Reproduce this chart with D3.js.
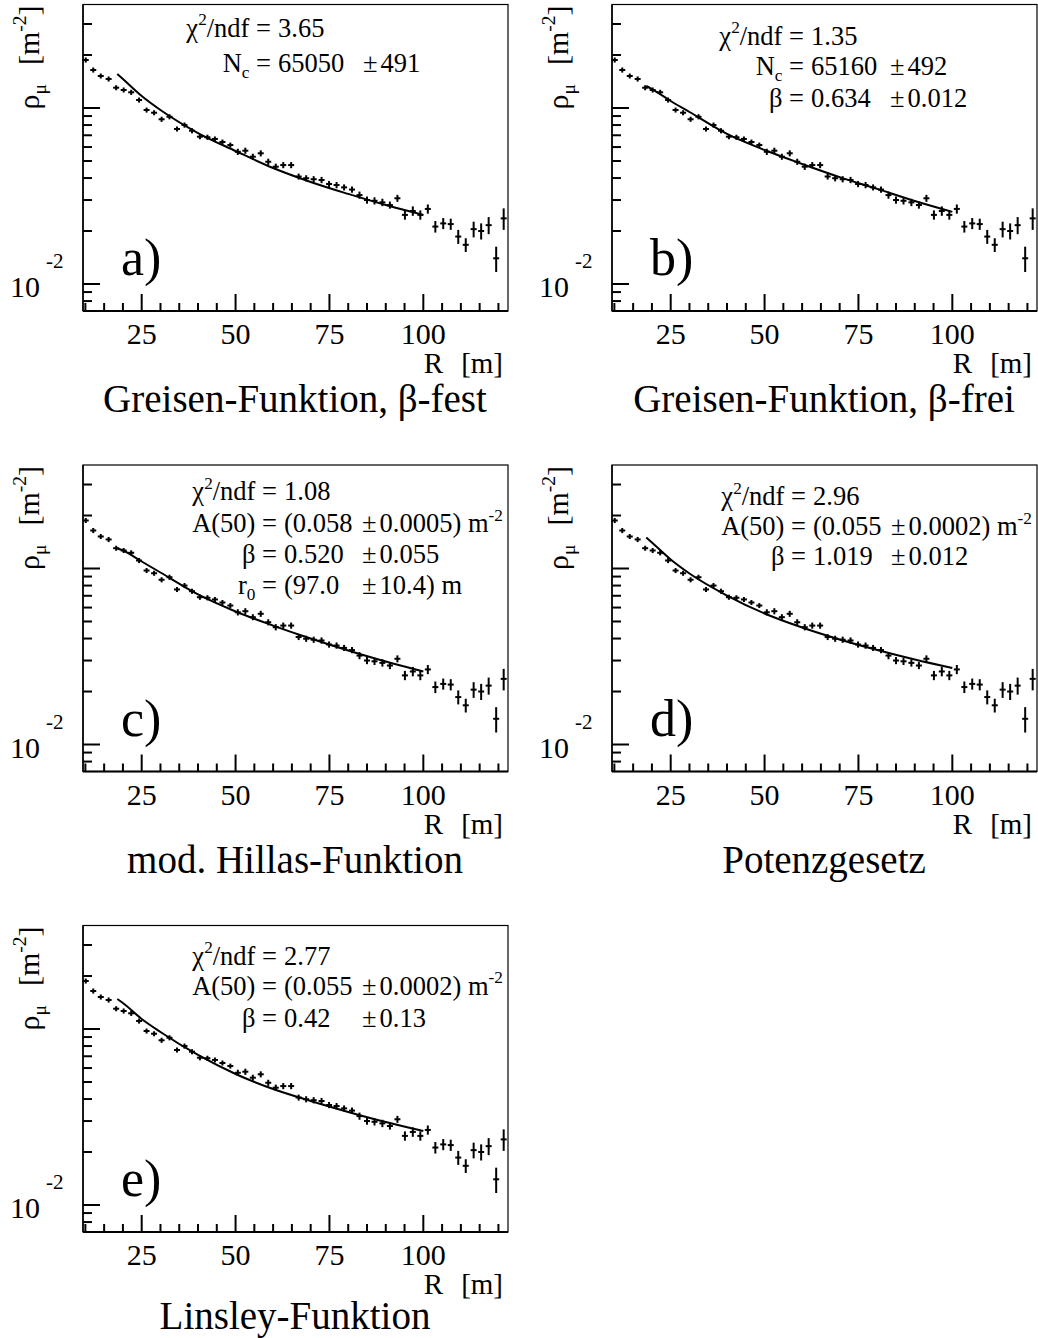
<!DOCTYPE html>
<html><head><meta charset="utf-8">
<script src="https://cdn.jsdelivr.net/npm/d3@7"></script>
<style>
body{margin:0;background:#fff}
svg{display:block}
text{font-family:"Liberation Serif","Times New Roman",serif;fill:#000}
</style>
</head><body>
<svg id="chart" width="1038" height="1338"></svg>
<script>
// ---------------- data ----------------
const R = [10.1,12.1,14.1,16.2,18.2,20.2,22.2,24.3,26.3,28.3,30.3,32.4,34.4,36.4,38.4,40.5,42.5,44.5,46.5,48.6,
  50.6,52.6,54.6,56.7,58.7,60.7,62.7,64.8,66.8,68.8,70.8,72.9,74.9,76.9,78.9,81.0,83.0,85.0,87.0,89.1,
  91.1,93.1,95.1,97.2,99.2,101.2,103.2,105.3,107.3,109.3,111.3,113.4,115.4,117.4,119.4,121.4];
const rho = [0.1874,0.1644,0.1520,0.1462,0.1304,0.1266,0.1228,0.1110,0.0974,0.0940,0.0863,0.0892,0.0760,0.0800,0.0743,0.0687,0.0682,0.0667,0.0641,0.0616,
  0.0564,0.0572,0.0529,0.0553,0.0495,0.0464,0.0474,0.0474,0.0408,0.0399,0.0394,0.0390,0.0370,0.0365,0.0354,0.0344,0.0320,0.0300,0.0297,0.0291,
  0.0281,0.0307,0.0247,0.0260,0.0247,0.0267,0.0212,0.0221,0.0219,0.0186,0.0167,0.0205,0.0200,0.0216,0.0140,0.0236];
const rhoErr = [0.0062,0.0055,0.0050,0.0049,0.0043,0.0042,0.0041,0.0037,0.0032,0.0031,0.0029,0.0030,0.0025,0.0027,0.0025,0.0023,0.0023,0.0022,0.0021,0.0020,
  0.0023,0.0023,0.0021,0.0022,0.0020,0.0019,0.0019,0.0019,0.0016,0.0016,0.0016,0.0016,0.0015,0.0015,0.0014,0.0014,0.0015,0.0014,0.0014,0.0014,
  0.0013,0.0014,0.0015,0.0016,0.0015,0.0016,0.0016,0.0016,0.0016,0.0017,0.0015,0.0021,0.0021,0.0024,0.0023,0.0033];

// fit curves
const fitR = [18.5,20,25,30,40,50,60,70,80,90,100];
const fitA = [0.1560,0.1461,0.1170,0.0974,0.0721,0.0570,0.0456,0.0380,0.0325,0.0281,0.0247];
const fitB = [0.1334,0.1282,0.1096,0.0949,0.0712,0.0577,0.0481,0.0405,0.0347,0.0296,0.0257];
const fitC = [0.1299,0.1266,0.1096,0.0949,0.0712,0.0570,0.0474,0.0400,0.0342,0.0296,0.0260];
const fitD = [0.1500,0.1405,0.1125,0.0937,0.0702,0.0555,0.0462,0.0395,0.0344,0.0304,0.0272];
const fitE = [0.1481,0.1405,0.1140,0.0962,0.0712,0.0555,0.0456,0.0390,0.0338,0.0296,0.0263];

const xMajorTicks = [25,50,75,100];
const xMinorTicks = [10,15,20,30,35,40,45,55,60,65,70,80,85,90,95,105,110,115,120];
const yMajorTicks = [0.01,0.1];
const yMinorTicks = [0.008,0.009,0.02,0.03,0.04,0.05,0.06,0.07,0.08,0.09,0.2,0.3];
const yLabelTicks = [0.01];

const panelTitles = ["Greisen-Funktion, \u03b2-fest","Greisen-Funktion, \u03b2-frei","mod. Hillas-Funktion","Potenzgesetz","Linsley-Funktion"];
const panelLetters = ["a)","b)","c)","d)","e)"];

const statsA = [["\u03c7^{2}/ndf =","3.65","",""],["N_{c} =","65050","491",""]];
const statsB = [["\u03c7^{2}/ndf =","1.35","",""],["N_{c} =","65160","492",""],["\u03b2 =","0.634","0.012",""]];
const statsC = [["\u03c7^{2}/ndf =","1.08","",""],["A(50) =","(0.058","0.0005)"," m^{-2}"],["\u03b2 =","0.520","0.055",""],["r_{0} =","(97.0","10.4)"," m"]];
const statsD = [["\u03c7^{2}/ndf =","2.96","",""],["A(50) =","(0.055","0.0002)"," m^{-2}"],["\u03b2 =","1.019","0.012",""]];
const statsE = [["\u03c7^{2}/ndf =","2.77","",""],["A(50) =","(0.055","0.0002)"," m^{-2}"],["\u03b2 =","0.42","0.13",""]];

const xDomain = [9.37,122.55];
const yDomain = [0.007025,0.3873];

// ---------------- layout ----------------
const W = 425, H = 306.5;
const layout = [
  {left:83, top:4.5, fit:fitA, stats:statsA, eqX:188, pmX:280, base:[32,67], titleDy:101},
  {left:612, top:4.5, fit:fitB, stats:statsB, eqX:192, pmX:278, base:[40,70,102], titleDy:101},
  {left:83, top:465, fit:fitC, stats:statsC, eqX:194, pmX:279, base:[35,67,98,129], titleDy:101},
  {left:612, top:465, fit:fitD, stats:statsD, eqX:194, pmX:279, base:[40,70,100], titleDy:101},
  {left:83, top:925.5, fit:fitE, stats:statsE, eqX:194, pmX:279, base:[39,69,101], titleDy:97}
];

const svg = d3.select("#chart");
const x = d3.scaleLinear().domain(xDomain).range([0,W]);
const y = d3.scaleLog().domain(yDomain).range([H,0]);

function rich(sel, str, size){
  const parts = str.split(/(\^\{[^}]*\}|_\{[^}]*\})/).filter(s=>s.length);
  let shift = 0;
  parts.forEach(p=>{
    if(p.startsWith("^{")){
      sel.append("tspan").attr("font-size", size*0.65).attr("dy", -size*0.42 - shift).text(p.slice(2,-1));
      shift = -size*0.42;
    } else if(p.startsWith("_{")){
      sel.append("tspan").attr("font-size", size*0.65).attr("dy", size*0.24 - shift).text(p.slice(2,-1));
      shift = size*0.24;
    } else {
      sel.append("tspan").attr("dy", -shift).text(p);
      shift = 0;
    }
  });
}

layout.forEach((L,pi)=>{
  const g = svg.append("g").attr("transform",`translate(${L.left},${L.top})`);
  // frame
  g.append("rect").attr("x",0).attr("y",0).attr("width",W).attr("height",H)
    .attr("fill","none").attr("stroke","#000").attr("stroke-width",1.2);
  g.append("line").attr("x1",0).attr("x2",W).attr("y1",H).attr("y2",H).attr("stroke","#000").attr("stroke-width",2);
  g.append("line").attr("x1",0).attr("x2",0).attr("y1",0).attr("y2",H).attr("stroke","#000").attr("stroke-width",1.5);

  // x ticks
  g.selectAll(".xM").data(xMajorTicks).enter().append("line")
    .attr("x1",d=>x(d)).attr("x2",d=>x(d)).attr("y1",H).attr("y2",H-17)
    .attr("stroke","#000").attr("stroke-width",2);
  g.selectAll(".xm").data(xMinorTicks).enter().append("line")
    .attr("x1",d=>x(d)).attr("x2",d=>x(d)).attr("y1",H).attr("y2",H-8)
    .attr("stroke","#000").attr("stroke-width",2);
  g.selectAll(".xl").data(xMajorTicks).enter().append("text")
    .attr("x",d=>x(d)).attr("y",H+33).attr("text-anchor","middle").attr("font-size",30).text(d=>d);
  // y ticks
  g.selectAll(".yM").data(yMajorTicks).enter().append("line")
    .attr("x1",0).attr("x2",17).attr("y1",d=>y(d)).attr("y2",d=>y(d))
    .attr("stroke","#000").attr("stroke-width",2);
  g.selectAll(".ym").data(yMinorTicks).enter().append("line")
    .attr("x1",0).attr("x2",9).attr("y1",d=>y(d)).attr("y2",d=>y(d))
    .attr("stroke","#000").attr("stroke-width",2);
  yLabelTicks.forEach(v=>{
    g.append("text").attr("x",-43).attr("y",y(v)+13).attr("text-anchor","end").attr("font-size",30).text("10");
    g.append("text").attr("x",-37).attr("y",y(v)-16).attr("text-anchor","start").attr("font-size",21).text("-2");
  });
  // y title (rotated)
  const yt = g.append("g").attr("transform",`translate(-44,0) rotate(-90)`);
  const t1 = yt.append("text").attr("x",-105).attr("y",0).attr("font-size",30);
  rich(t1,"\u03c1_{\u03bc}",30);
  const t2 = yt.append("text").attr("x",-1).attr("y",0).attr("font-size",30).attr("text-anchor","end");
  rich(t2,"[m^{-2}]",30);
  // x title
  g.append("text").attr("x",W-5).attr("y",H+62).attr("text-anchor","end").attr("font-size",29).text("[m]");
  g.append("text").attr("x",W-65).attr("y",H+62).attr("text-anchor","end").attr("font-size",29).text("R");
  // panel title
  g.append("text").attr("x",212).attr("y",H+L.titleDy).attr("text-anchor","middle").attr("font-size",39).text(panelTitles[pi]);
  // letter
  g.append("text").attr("x",38).attr("y",270.5).attr("font-size",52).text(panelLetters[pi]);

  // data
  const pts = R.map((r,i)=>({r, v:rho[i], e:rhoErr[i]}));
  const dg = g.append("g");
  dg.selectAll(".ev").data(pts).enter().append("line")
    .attr("x1",d=>x(d.r)).attr("x2",d=>x(d.r))
    .attr("y1",d=>y(d.v-d.e)).attr("y2",d=>y(d.v+d.e))
    .attr("stroke","#000").attr("stroke-width",2);
  dg.selectAll(".eh").data(pts).enter().append("line")
    .attr("x1",d=>x(d.r-0.8)).attr("x2",d=>x(d.r+0.8))
    .attr("y1",d=>y(d.v)).attr("y2",d=>y(d.v))
    .attr("stroke","#000").attr("stroke-width",2);
  // fit curve
  const line = d3.line().x(d=>x(d[0])).y(d=>y(d[1])).curve(d3.curveMonotoneX);
  g.append("path").datum(fitR.map((r,i)=>[r,L.fit[i]])).attr("d",line)
    .attr("fill","none").attr("stroke","#000").attr("stroke-width",2);

  // stats
  const fs = 26.5;
  L.stats.forEach((s,li)=>{
    const a = g.append("text").attr("x",L.eqX).attr("y",L.base[li]).attr("text-anchor","end").attr("font-size",fs);
    rich(a,s[0],fs);
    const b = g.append("text").attr("x",L.eqX+7).attr("y",L.base[li]).attr("font-size",fs);
    rich(b,s[1],fs);
    if(s[2]){
      const c = g.append("text").attr("x",L.pmX).attr("y",L.base[li]).attr("font-size",fs);
      c.append("tspan").text("\u00b1");
      c.append("tspan").attr("dx",3).text(s[2]);
      if(s[3]) rich(c,s[3],fs);
    }
  });
});
</script>
</body></html>
